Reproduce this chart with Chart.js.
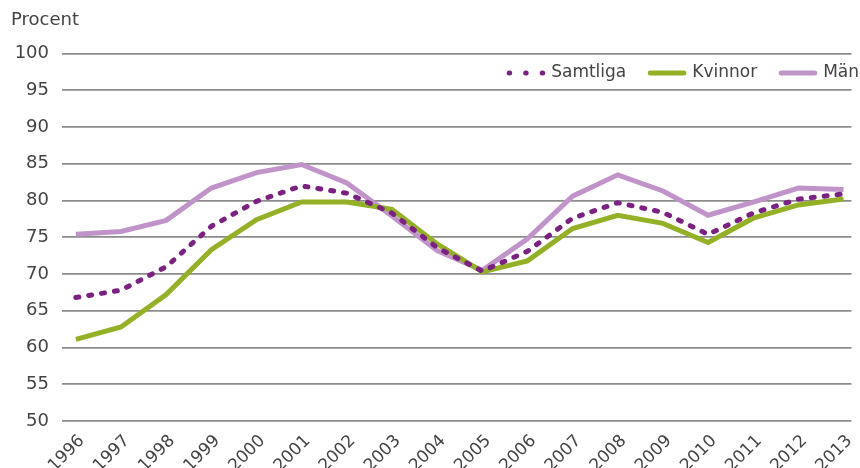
<!DOCTYPE html>
<html>
<head>
<meta charset="utf-8">
<script src="https://cdn.jsdelivr.net/npm/chart.js@4/dist/chart.umd.min.js"></script>
<style>
  html, body { margin: 0; padding: 0; background: #fff; }
  #wrap { width: 860px; height: 468px; }
</style>
</head>
<body>
<div id="wrap"><canvas id="chart" width="860" height="468"></canvas></div>
<script>
// data
const years = [1996, 1997, 1998, 1999, 2000, 2001, 2002, 2003, 2004, 2005,
               2006, 2007, 2008, 2009, 2010, 2011, 2012, 2013];
const samtliga = [66.8, 67.8, 71.0, 76.5, 79.9, 82.0, 81.0, 78.3, 73.6, 70.4,
                  73.1, 77.6, 79.7, 78.4, 75.4, 78.3, 80.2, 80.9];
const kvinnor  = [61.1, 62.8, 67.2, 73.3, 77.4, 79.8, 79.8, 78.8, 74.1, 70.3,
                  71.8, 76.2, 78.0, 76.9, 74.3, 77.6, 79.4, 80.2];
const man      = [75.4, 75.8, 77.3, 81.7, 83.8, 84.9, 82.4, 77.9, 73.2, 70.5,
                  74.8, 80.6, 83.5, 81.3, 78.0, 79.8, 81.7, 81.5];
const yTicks = [50, 55, 60, 65, 70, 75, 80, 85, 90, 95, 100];

const FONT = '"DejaVu Sans", sans-serif';
const TEXT = '#444444';

const toPoints = vals => years.map((yr, i) => ({ x: yr, y: vals[i] }));

// legend drawn inside the plot, top right
const inlineLegend = {
  id: 'inlineLegend',
  afterDraw(chart) {
    const ctx = chart.ctx;
    const y = 73;
    let x = 859;
    ctx.save();
    ctx.font = '17px ' + FONT;
    ctx.textBaseline = 'middle';
    chart.data.datasets.slice().reverse().forEach(ds => {
      const w = ctx.measureText(ds.label).width;
      x -= w;
      ctx.fillStyle = TEXT;
      ctx.fillText(ds.label, x, y);
      x -= 9;
      ctx.strokeStyle = ds.borderColor;
      ctx.lineWidth = ds.borderWidth;
      ctx.lineCap = 'round';
      ctx.setLineDash(ds.legendDash || []);
      ctx.beginPath();
      ctx.moveTo(x - 33, y);
      ctx.lineTo(x + 0.6, y);
      ctx.stroke();
      x -= 33 + 24;
    });
    ctx.restore();
  }
};

new Chart(document.getElementById('chart'), {
  type: 'line',
  data: {
    datasets: [
      { label: 'Samtliga', data: toPoints(samtliga), borderColor: '#7b2181', borderWidth: 5,
        borderDash: [3, 10], borderCapStyle: 'round', legendDash: [0.5, 16],
        pointRadius: 0, tension: 0 },
      { label: 'Kvinnor', data: toPoints(kvinnor), borderColor: '#93b027', borderWidth: 5,
        pointRadius: 0, tension: 0 },
      { label: 'Män', data: toPoints(man), borderColor: '#c093c9', borderWidth: 5,
        pointRadius: 0, tension: 0 }
    ]
  },
  options: {
    responsive: false,
    animation: false,
    layout: { padding: { left: 11, right: 0, top: 0, bottom: 0 } },
    plugins: {
      legend: { display: false },
      tooltip: { enabled: false },
      title: {
        display: true, text: 'Procent', align: 'start', color: TEXT,
        font: { family: FONT, size: 18, weight: 'normal' },
        padding: { top: 10, bottom: 22 }
      }
    },
    scales: {
      x: {
        type: 'linear',
        min: 1995.693, max: 2013.175,
        afterBuildTicks: axis => { axis.ticks = years.map(v => ({ value: v })); },
        afterFit: axis => { axis.height = 47; },
        grid: { display: false },
        border: { display: false },
        ticks: {
          autoSkip: false, minRotation: 45, maxRotation: 45, labelOffset: 6, padding: 2,
          color: TEXT, font: { family: FONT, size: 17 },
          callback: v => String(v)
        }
      },
      y: {
        min: 50, max: 100,
        afterBuildTicks: axis => { axis.ticks = yTicks.map(v => ({ value: v })); },
        afterFit: axis => { axis.width = 51; },
        grid: { color: '#8c8c8c', lineWidth: 1.8, drawTicks: false },
        border: { display: false },
        ticks: { padding: 13, color: TEXT, font: { family: FONT, size: 18 } }
      }
    }
  },
  plugins: [inlineLegend]
});
</script>
</body>
</html>
